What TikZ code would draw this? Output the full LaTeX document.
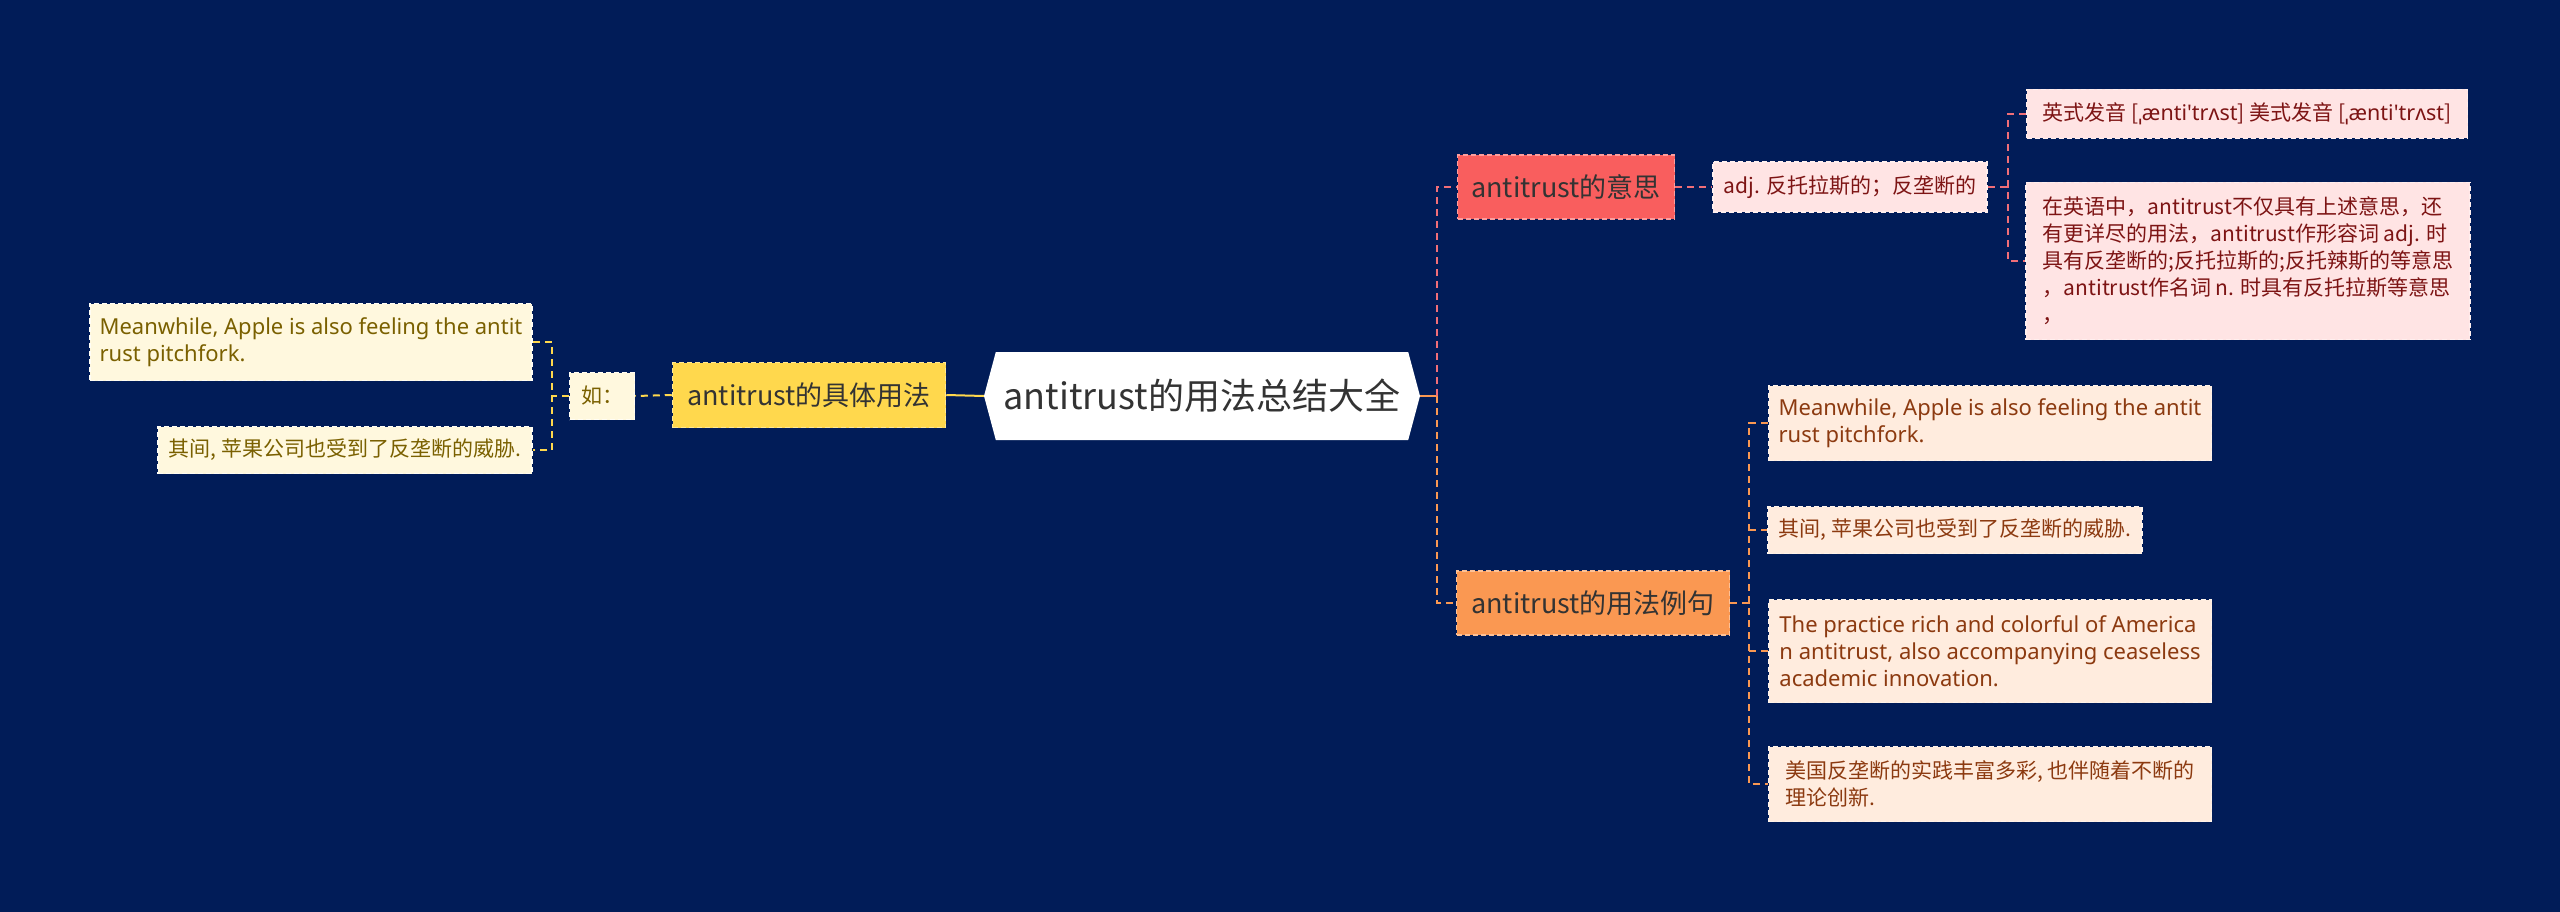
\documentclass[tikz,border=0pt]{standalone}
\usepackage{fontspec}
\setmainfont{Noto Sans CJK SC}
\newfontfamily\ipafont{Noto Sans}
\newfontfamily\latinfont{Noto Sans}
\usepackage{tikz}
\usetikzlibrary{positioning, shapes.symbols}
\definecolor{mm-bg}{RGB}{1,28,88}
\definecolor{mm-dark}{RGB}{51,51,51}
\definecolor{mm-yellow}{RGB}{255,216,77}
\definecolor{mm-cream}{RGB}{255,248,222}
\definecolor{mm-olive}{RGB}{122,96,0}
\definecolor{mm-red}{RGB}{249,94,94}
\definecolor{mm-redline}{RGB}{240,110,120}
\definecolor{mm-pink}{RGB}{255,228,228}
\definecolor{mm-wine}{RGB}{125,20,20}
\definecolor{mm-orange}{RGB}{250,152,82}
\definecolor{mm-peach}{RGB}{255,236,222}
\definecolor{mm-brown}{RGB}{140,58,16}

\begin{document}
\begin{tikzpicture}[
    x=1pt, y=-1pt,
    box/.style={rectangle, draw, line width=1.5pt, dash pattern=on 5pt off 3pt, inner sep=0pt, align=left},
    branch/.style={box, font=\fontsize{27}{32}\selectfont, text=mm-dark, minimum height=64pt},
    leaf/.style={box, font=\fontsize{21}{27}\selectfont},
    enleaf/.style={font=\latinfont\fontsize{22}{27}\selectfont},
    useleaf/.style={leaf, fill=mm-cream, draw=white!70!mm-cream, text=mm-olive},
    meanleaf/.style={leaf, fill=mm-pink, draw=white!40!mm-pink, text=mm-wine},
    examleaf/.style={leaf, fill=mm-peach, draw=white!40!mm-peach, text=mm-brown},
    link/.style={line width=2pt, dash pattern=on 7pt off 5pt}
]
    \fill[mm-bg] (0,0) rectangle (2560,912);

    \node[signal, signal to=west and east, signal pointer angle=150, fill=white, inner sep=0pt,
          minimum width=436pt, minimum height=88pt, font=\fontsize{36}{40}\selectfont, text=mm-dark] (root) at (1202,396) {antitrust的用法总结大全};

    % left branch
    \node[branch, fill=mm-yellow, draw=white!40!mm-yellow, minimum width=273pt, minimum height=65pt] (use) at (809,395) {antitrust的具体用法};
    \node[useleaf, minimum width=65pt, minimum height=47pt] (ru) at (602,396) {如：};
    \node[useleaf, enleaf, minimum width=442pt, minimum height=77pt] (lu1) at (311,342) {Meanwhile, Apple is also feeling the antit\\rust pitchfork.};
    \node[useleaf, minimum width=374pt, minimum height=47pt] (lu2) at (345,450) {其间, 苹果公司也受到了反垄断的威胁.};

    % right branches
    \node[branch, fill=mm-red, draw=white!40!mm-red, minimum width=217pt] (mean) at (1566,187) {antitrust的意思};
    \node[meanleaf, minimum width=274pt, minimum height=50pt] (adj) at (1850,187) {adj. 反托拉斯的；反垄断的};
    \node[meanleaf, minimum width=441pt, minimum height=49pt] (pron) at (2247,114) {英式发音 [{\ipafont\fontsize{21.5}{27}\selectfont ˌænti\textquotesingle trʌst}] 美式发音 [{\ipafont\fontsize{21.5}{27}\selectfont ˌænti\textquotesingle trʌst}]};
    \node[meanleaf, minimum width=444pt, minimum height=157pt] (note) at (2248,261) {在英语中，antitrust不仅具有上述意思，还\\有更详尽的用法，antitrust作形容词 adj. 时\\具有反垄断的;反托拉斯的;反托辣斯的等意思\\，antitrust作名词 n. 时具有反托拉斯等意思\\，};

    \node[branch, fill=mm-orange, draw=white!40!mm-orange, minimum width=273pt] (exam) at (1593,603) {antitrust的用法例句};
    \node[examleaf, enleaf, minimum width=443pt, minimum height=75pt] (ex1) at (1990,423) {Meanwhile, Apple is also feeling the antit\\rust pitchfork.};
    \node[examleaf, minimum width=374pt, minimum height=47pt] (ex2) at (1955,530) {其间, 苹果公司也受到了反垄断的威胁.};
    \node[examleaf, enleaf, minimum width=443pt, minimum height=103pt] (ex3) at (1990,651) {The practice rich and colorful of America\\n antitrust, also accompanying ceaseless\\academic innovation.};
    \node[examleaf, minimum width=443pt, minimum height=75pt] (ex4) at (1990,784) {美国反垄断的实践丰富多彩, 也伴随着不断的\\理论创新.};

    \coordinate (lj) at (552,396);
    \coordinate (rj) at (1437,396);
    \coordinate (pj) at (2008,187);
    \coordinate (ej) at (1749,603);

    \draw[line width=2pt, mm-yellow] (root.west) -- (use.east);
    \draw[link, mm-yellow] (use.west) -- (ru.east);
    \draw[link, mm-yellow] (lu1.east) -| (lj) |- (lu2.east);
    \draw[link, mm-yellow] (ru.west) -- (lj);

    \draw[line width=2pt, mm-orange] (root.east) -- (rj);
    \draw[link, mm-redline] (rj) |- (mean.west);
    \draw[link, mm-orange] (rj) |- (exam.west);
    \draw[link, mm-redline] (mean.east) -- (adj.west);
    \draw[link, mm-redline] (pron.west) -| (pj) |- (note.west);
    \draw[link, mm-redline] (adj.east) -- (pj);
    \draw[link, mm-orange] (ex1.west) -| (ej) |- (ex4.west);
    \draw[link, mm-orange] (exam.east) -- (ej);
    \draw[link, mm-orange] (ej |- ex2.west) -- (ex2.west);
    \draw[link, mm-orange] (ej |- ex3.west) -- (ex3.west);
\end{tikzpicture}
\end{document}
